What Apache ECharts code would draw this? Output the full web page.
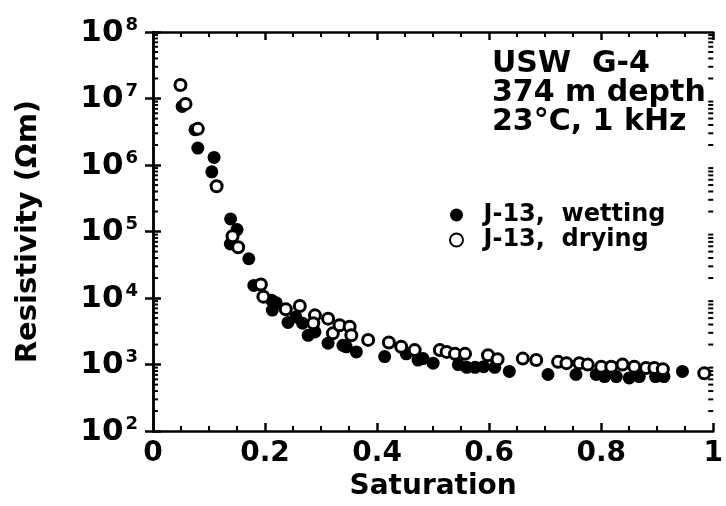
<!DOCTYPE html>
<html><head><meta charset="utf-8">
<script src="https://cdn.jsdelivr.net/npm/echarts@6/dist/echarts.min.js"></script>
<style>html,body{margin:0;padding:0;background:#fff}#c{width:726px;height:506px}</style>
</head><body><div id="c"></div>
<script>
// wetting (filled) series
const wettingS = [0.052,0.075,0.080,0.109,0.105,0.1385,0.150,0.138,0.171,0.180,0.2115,0.220,0.213,0.241,0.255,0.267,0.277,0.289,0.3125,0.339,0.345,0.363,0.4135,0.452,0.473,0.482,0.500,0.545,0.560,0.575,0.590,0.610,0.636,0.705,0.755,0.791,0.806,0.827,0.850,0.868,0.897,0.912,0.945];
const wettingR = [7.6e6,3.4e6,1.8e6,1.3e6,7.9e5,1.55e5,1.07e5,6.5e4,3.9e4,1.55e4,9300,8500,6600,4300,5200,4200,2750,3100,2100,1950,1850,1550,1320,1450,1170,1230,1050,1000,910,910,930,910,790,710,710,710,660,660,630,660,660,660,790];
// drying (open) series
const dryingS = [0.049,0.058,0.080,0.1135,0.142,0.152,0.1925,0.197,0.237,0.262,0.289,0.286,0.3125,0.321,0.333,0.351,0.354,0.384,0.421,0.443,0.467,0.512,0.524,0.539,0.557,0.598,0.615,0.660,0.684,0.723,0.738,0.761,0.776,0.800,0.818,0.838,0.859,0.880,0.895,0.910,0.984];
const dryingR = [1.6e7,8.3e6,3.5e6,4.8e5,8.5e4,5.8e4,1.6e4,1.05e4,6800,7600,5500,4200,4900,2950,3900,3700,2750,2350,2150,1850,1650,1650,1550,1450,1450,1380,1200,1230,1170,1100,1050,1050,1000,930,930,1000,930,890,890,850,740];
// axis ticks
const xTicks = [0,0.2,0.4,0.6,0.8,1];
const yExponents = [2,3,4,5,6,7,8];
const minorMultipliers = [2,3,4,5,6,7,8,9];
const annotationLines = ['USW  G-4','374 m depth','23°C, 1 kHz'];
const legendNames = ['J-13,  wetting','J-13,  drying'];

const FONT = '"DejaVu Sans", "Liberation Sans", sans-serif';
const minorVals = [];
yExponents.slice(0,-1).forEach(e => minorMultipliers.forEach(m => minorVals.push([0, m*Math.pow(10,e)])));

const chart = echarts.init(document.getElementById('c'));
const xAxisBase = {type:'value', min:0, max:1, interval:0.2,
  axisLine:{show:true,lineStyle:{color:'#000',width:2.5}},
  axisTick:{show:true,inside:true,length:8,lineStyle:{color:'#000',width:2.5}},
  minorTick:{show:true,splitNumber:4,length:5,lineStyle:{color:'#000',width:2}},
  splitLine:{show:false}};
const yAxisBase = {type:'log', logBase:10, min:100, max:1e8,
  axisLine:{show:true,lineStyle:{color:'#000',width:2.5}},
  axisTick:{show:true,inside:true,length:8,lineStyle:{color:'#000',width:2.5}},
  splitLine:{show:false}};

chart.setOption({
  animation:false,
  grid:{left:153,right:12,top:32,bottom:68},
  xAxis:[
    Object.assign({}, xAxisBase, {position:'bottom',
      name:'Saturation', nameLocation:'middle', nameGap:34,
      nameTextStyle:{fontFamily:FONT,fontWeight:'bold',fontSize:28,color:'#000'},
      axisLabel:{fontFamily:FONT,fontWeight:'bold',fontSize:28,color:'#000',margin:9,
        formatter:v => xTicks.indexOf(+v.toFixed(1))>=0 ? String(+v.toFixed(1)) : ''}}),
    Object.assign({}, xAxisBase, {position:'top', axisLabel:{show:false}})
  ],
  yAxis:[
    Object.assign({}, yAxisBase, {position:'left',
      name:'Resistivity (Ωm)', nameLocation:'middle', nameGap:110, nameRotate:90,
      nameTextStyle:{fontFamily:FONT,fontWeight:'bold',fontSize:29,color:'#000'},
      axisLabel:{margin:15,color:'#000',
        formatter:v => '{b|10}{s|' + Math.round(Math.log10(v)) + '}',
        rich:{b:{fontFamily:FONT,fontWeight:'bold',fontSize:31,color:'#000',verticalAlign:'bottom',lineHeight:32},
              s:{fontFamily:FONT,fontWeight:'bold',fontSize:18,color:'#000',verticalAlign:'top',lineHeight:32,padding:[0,0,12,2]}}}}),
    Object.assign({}, yAxisBase, {position:'right', axisLabel:{show:false}})
  ],
  legend:{
    orient:'vertical', left:444, top:198, itemGap:1, itemWidth:44, itemHeight:13,
    data:[{name:legendNames[0],icon:'circle'},{name:legendNames[1],icon:'circle'}],
    textStyle:{fontFamily:FONT,fontWeight:'bold',fontSize:24,color:'#000'}
  },
  graphic: annotationLines.map((t,i)=>({type:'text', left:492, top:49+i*29,
    style:{text:t, font:'bold 30px '+FONT, fill:'#000', textAlign:'left'}})),
  series:[
    {type:'custom', name:'minor', silent:true, xAxisIndex:0, yAxisIndex:0, data:minorVals,
      renderItem:(params, api)=>{
        const p = api.coord([0, api.value(1)]);
        const q = api.coord([1, api.value(1)]);
        return {type:'group', children:[
          {type:'line', shape:{x1:p[0],y1:p[1],x2:p[0]+5,y2:p[1]}, style:{stroke:'#000',lineWidth:2}},
          {type:'line', shape:{x1:q[0]-5,y1:q[1],x2:q[0],y2:q[1]}, style:{stroke:'#000',lineWidth:2}}
        ]};
      }},
    {type:'scatter', name:legendNames[0], symbol:'circle', symbolSize:13,
      itemStyle:{color:'#000',opacity:1}, data:wettingS.map((s,i)=>[s,wettingR[i]])},
    {type:'scatter', name:legendNames[1], symbol:'circle', symbolSize:11,
      itemStyle:{color:'#fff',borderColor:'#000',borderWidth:3,opacity:1}, data:dryingS.map((s,i)=>[s,dryingR[i]])}
  ]
});
</script></body></html>
